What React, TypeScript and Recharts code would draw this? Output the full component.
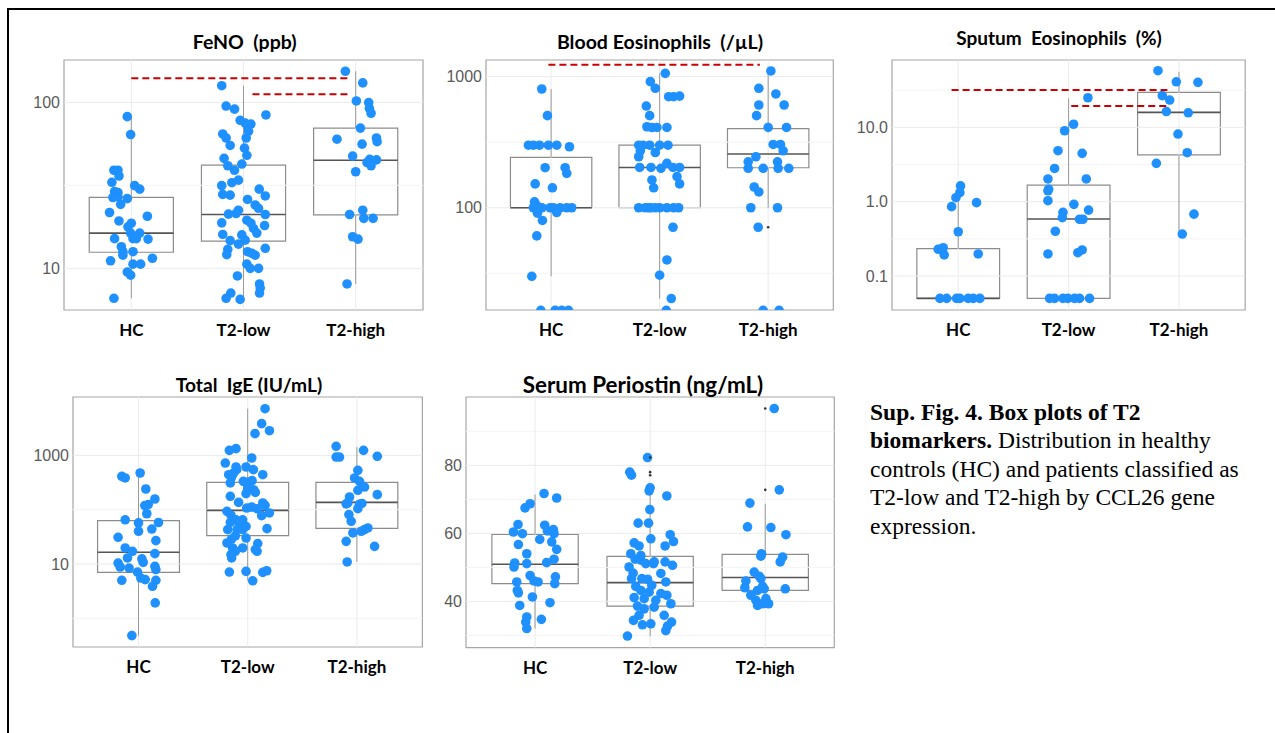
import {
  ComposedChart,
  XAxis,
  YAxis,
  Scatter,
  ReferenceLine,
  ReferenceArea,
} from 'recharts';

const CATS = ['HC', 'T2-low', 'T2-high'];

// points: [jitter offset in category units, value]
const fenoHC = [
  [-0.036, 82], [-0.006, 64], [-0.155, 39], [-0.119, 39], [-0.11, 36], [-0.173, 33],
  [0.03, 31.5], [0.075, 30], [-0.149, 29], [-0.119, 28.6], [-0.164, 26.7], [-0.119, 27],
  [-0.036, 26.3], [-0.095, 24.3], [-0.194, 21.7], [0.143, 20.6], [-0.11, 19.3], [0, 18.7],
  [-0.03, 17.8], [0.075, 16.3], [-0.006, 16.3], [-0.149, 15.1], [0.149, 15], [0.015, 15.1],
  [0.045, 15.1], [-0.089, 13.5], [-0.075, 12.6], [0.015, 12.6], [-0.075, 12.0], [0.188, 11.5],
  [-0.185, 11.1], [0.015, 10.6], [0.083, 10.6], [-0.036, 9.5], [-0.006, 9.1], [-0.155, 6.6],
];
const fenoLow = [
  [-0.194, 126], [-0.155, 95], [-0.08, 91], [0.2, 84], [-0.03, 78], [0.015, 75], [0.066, 74],
  [0.036, 72], [0.045, 67], [-0.185, 64.5], [-0.155, 61], [0.024, 61], [-0.119, 55], [0.009, 53],
  [0.03, 48], [-0.173, 46], [-0.14, 41.5], [-0.015, 42.5], [-0.08, 39], [-0.045, 34],
  [-0.104, 32.8], [-0.194, 31.5], [0.14, 30], [0.194, 27.3], [-0.185, 27.9], [-0.119, 27.6],
  [0.036, 26], [0.104, 24.1], [0.134, 23], [-0.045, 22.4], [-0.066, 21.4], [-0.134, 21.2],
  [0.194, 21.1], [0.03, 19.5], [-0.194, 18.8], [0.066, 18.7], [0.188, 18.1], [0.089, 17.4],
  [0.119, 16.3], [-0.185, 16], [-0.015, 15.9], [-0.119, 14.7], [0.015, 14.8], [-0.045, 14],
  [-0.14, 13], [0.036, 12.6], [-0.149, 12.1], [0.075, 12.3], [0.104, 12], [0.194, 13.2],
  [0.03, 10.6], [0.06, 10], [0.134, 10], [-0.054, 9.0], [0.143, 8.05], [0.149, 7.6],
  [0.143, 7.1], [-0.113, 7.1], [-0.155, 6.6], [-0.03, 6.5],
];
const fenoHigh = [
  [-0.092, 154], [0.063, 131], [0.006, 102], [0.116, 99.6], [0.122, 92], [0.137, 86],
  [0.042, 70], [-0.167, 60], [0.185, 61], [0.191, 58], [0.057, 56], [-0.027, 47.5],
  [0.125, 45.4], [0.185, 45], [0.101, 43.4], [0.137, 41.5], [0, 38.2], [0.063, 22.4],
  [-0.054, 21.1], [0.072, 20], [0.155, 20], [-0.027, 15.5], [0.021, 15], [-0.077, 8.05],
];
// box stats: [q1, median, q3, lower whisker, upper whisker]
const fenoBox = [[12.5, 16.3, 26.8, 6.6, 81], [14.6, 21.1, 41.9, 6.5, 126], [21, 44.8, 70, 8.05, 154]];
// significance bars: [x from, x to, value]
const fenoSig = [[1.0, 2.94, 139.5], [2.08, 2.96, 112]];

const bloodHC = [
  [-0.086, 805], [-0.034, 504], [-0.209, 300], [-0.163, 300], [-0.107, 300], [-0.025, 300],
  [0.052, 300], [0.169, 292], [-0.055, 202], [0.129, 202], [0.144, 183], [-0.147, 152],
  [0.012, 142], [-0.153, 111], [-0.163, 100], [-0.086, 100], [-0.009, 100], [0.021, 100],
  [0.083, 100], [0.144, 100], [0.19, 100], [-0.126, 103], [-0.126, 91], [0.052, 92],
  [-0.08, 80], [-0.132, 61], [-0.178, 30], [-0.095, 16.5], [0.037, 16.5], [0.098, 16.5],
  [0.16, 16.5],
];
const bloodLow = [
  [0.052, 1060], [-0.086, 916], [-0.04, 815], [0.083, 703], [0.129, 703], [0.184, 711],
  [-0.123, 597], [-0.092, 504], [-0.117, 415], [-0.071, 409], [-0.025, 410], [0.067, 410],
  [-0.193, 300], [-0.153, 300], [-0.092, 300], [0, 300], [0.077, 300], [-0.178, 272],
  [-0.04, 264], [-0.193, 245], [-0.184, 203], [-0.08, 203], [0.012, 200], [0.067, 218],
  [0.123, 203], [0.184, 203], [0.16, 173], [-0.071, 163], [0.184, 152], [-0.055, 142],
  [-0.193, 100], [-0.132, 100], [-0.101, 100], [-0.08, 100], [-0.04, 100], [0, 100],
  [0.067, 100], [0.129, 100], [0.175, 100], [0.123, 71], [0.067, 40], [0, 30.6],
  [0.107, 20.3], [0.061, 16.5],
];
const bloodHigh = [
  [0.025, 1105], [-0.086, 815], [0.071, 738], [0.147, 608], [-0.086, 608], [-0.107, 504],
  [0, 410], [0.169, 410], [0.046, 304], [0.113, 304], [0.138, 272], [-0.113, 245],
  [-0.184, 224], [-0.184, 200], [-0.046, 200], [0.086, 224], [0.092, 200], [0.19, 200],
  [-0.129, 144], [-0.086, 132], [-0.16, 100], [0.086, 100], [-0.092, 71], [-0.046, 16.5],
  [0.101, 16.5],
];
const bloodBox = [[100, 100, 242, 30, 805], [100, 203, 300, 20.3, 1060], [202, 257, 401, 100, 1105]];
const bloodOut = [[], [], [71]];
const bloodSig = [[0.975, 2.923, 1235]];

const sputumHC = [
  [0.021, 1.63], [0.015, 1.32], [-0.021, 1.13], [-0.06, 0.857], [0.166, 0.97], [0, 0.394],
  [-0.181, 0.229], [-0.136, 0.24], [-0.127, 0.192], [0.181, 0.198], [-0.166, 0.05],
  [-0.105, 0.05], [-0.015, 0.05], [0.015, 0.05], [0.09, 0.05], [0.136, 0.05], [0.196, 0.05],
];
const sputumLow = [
  [0.175, 25], [0.045, 11], [-0.036, 9], [-0.096, 4.85], [0.123, 4.47], [-0.127, 2.8],
  [0.16, 2.02], [-0.187, 2.02], [-0.181, 1.47], [-0.187, 1.4], [-0.187, 1.03], [0.048, 0.92],
  [-0.051, 0.72], [0.181, 0.77], [-0.057, 0.61], [0.099, 0.58], [0.13, 0.58], [-0.12, 0.4],
  [-0.187, 0.198], [0.084, 0.206], [0.123, 0.224], [-0.172, 0.05], [-0.127, 0.05],
  [-0.051, 0.05], [-0.006, 0.05], [0.054, 0.05], [0.099, 0.05], [0.19, 0.05],
];
const sputumHigh = [
  [-0.19, 57.8], [-0.024, 41], [0.172, 40.3], [-0.151, 26.7], [-0.084, 23.3], [-0.114, 16.3],
  [0.084, 15.7], [-0.009, 8.13], [0.075, 4.56], [-0.205, 3.28], [0.136, 0.68], [0.03, 0.367],
];
const sputumBox = [[0.05, 0.05, 0.233, 0.05, 1.63], [0.05, 0.585, 1.67, 0.05, 24.5], [4.25, 15.9, 29.6, 0.367, 56]];
const sputumSig = [[0.94, 2.895, 31.8], [2.024, 2.91, 19.4]];

const igeHC = [
  [0.015, 473], [-0.153, 410], [-0.122, 383], [0.067, 240], [0.15, 157], [0.058, 119],
  [0.089, 124], [0.076, 84], [-0.122, 65], [0, 57], [0.183, 58], [0.122, 44], [0, 40],
  [-0.187, 31], [0.159, 26.9], [-0.122, 19.7], [-0.055, 17.1], [0.15, 15.5], [-0.101, 12.9],
  [0.031, 12.4], [0.043, 10.7], [-0.187, 10.4], [-0.168, 8.8], [0.15, 9.05], [-0.086, 8.4],
  [-0.009, 7.1], [0.159, 7.9], [0.021, 5.5], [0.061, 5.15], [-0.153, 5.0], [0.159, 5.0],
  [0.128, 3.88], [0.153, 1.92], [-0.061, 0.48],
];
const igeLow = [
  [0.159, 7230], [0.128, 3830], [0.199, 2845], [0.067, 2510], [-0.168, 1235], [-0.107, 1327],
  [0.037, 893], [-0.205, 722], [-0.107, 610], [-0.015, 610], [0.052, 545], [0.138, 440],
  [-0.101, 545], [-0.174, 440], [-0.147, 399], [-0.128, 473], [-0.04, 332], [0.006, 323],
  [0.04, 342], [-0.159, 310], [0, 251], [0.055, 233], [-0.015, 197], [0.07, 208],
  [-0.159, 176], [-0.083, 136], [0.138, 133], [0.159, 120], [0.037, 112], [-0.009, 107],
  [0.086, 104], [-0.19, 93], [0.199, 87], [0.128, 77.6], [-0.153, 79], [-0.107, 65],
  [-0.046, 65], [-0.159, 58.5], [-0.076, 55], [-0.015, 49], [0.177, 44.7], [-0.098, 42.9],
  [-0.183, 42.9], [-0.046, 42.9], [-0.113, 33], [-0.147, 28.8], [-0.015, 30], [-0.19, 24.4],
  [0.092, 23.7], [-0.138, 19.7], [-0.046, 19.7], [0.07, 18.4], [-0.153, 14.9], [0.086, 17.1],
  [-0.113, 17.1], [-0.147, 12.9], [-0.168, 7.1], [-0.015, 7.3], [0.138, 7.0], [0.174, 7.5],
  [0.046, 4.9],
];
const igeHigh = [
  [-0.19, 1466], [0.061, 1235], [-0.19, 931], [-0.159, 931], [0.187, 960], [0.009, 530],
  [-0.021, 383], [0.024, 332], [0.07, 261], [0.009, 227], [0.187, 189], [-0.067, 171],
  [-0.083, 133], [0.024, 126], [0.046, 130], [0.009, 104], [-0.098, 128], [-0.073, 81],
  [-0.052, 61], [0.101, 46], [0.07, 42.9], [-0.037, 37.2], [0.04, 40], [-0.098, 26.1],
  [0.162, 21.1], [-0.089, 10.9],
];
const igeBox = [[7.0, 16.4, 62.8, 0.48, 473], [33.2, 97, 318, 4.9, 7230], [45.3, 136, 318, 10.9, 1415]];

const periostinHC = [
  [0.078, 71.7], [0.188, 70.4], [-0.087, 67.5], [-0.043, 68.7], [-0.148, 62.6], [-0.188, 60.4],
  [-0.11, 59.9], [0.084, 62.4], [0.159, 61.1], [0.165, 59.9], [0.107, 60.7], [0.145, 57.5],
  [0.188, 55.3], [0.041, 58.2], [-0.145, 56.7], [-0.072, 54.0], [-0.177, 51.3], [-0.072, 51.1],
  [0.101, 51.4], [0.165, 52.4], [-0.183, 50.1], [-0.043, 47.6], [-0.009, 46], [0.026, 45.7],
  [-0.159, 45.7], [0.177, 47.2], [0.171, 45.2], [-0.154, 43.2], [-0.145, 42.5], [-0.023, 41.3],
  [0.13, 39.6], [-0.133, 38.8], [-0.072, 35.4], [-0.081, 33.9], [0.055, 34.7], [-0.072, 32.0],
];
const periostinLow = [
  [-0.023, 82.3], [-0.177, 78.0], [-0.162, 77.1], [0, 73.4], [-0.009, 72.5], [0.145, 71.0],
  [-0.003, 67.0], [-0.104, 63.0], [-0.014, 63.0], [0.174, 59.6], [0.203, 57.6], [0.13, 56.3],
  [0.006, 58.4], [-0.139, 57.2], [-0.096, 56.3], [-0.168, 54.0], [-0.081, 53.5], [-0.13, 52.4],
  [-0.081, 52.1], [-0.038, 51.1], [0.035, 51.6], [0.029, 51.1], [0.13, 51.6], [0.194, 50.6],
  [-0.183, 50.1], [-0.148, 48.3], [-0.072, 46.7], [-0.162, 46.7], [-0.023, 46.5], [0.093, 48.2],
  [0.136, 45.7], [0.014, 44.7], [-0.125, 44.4], [-0.081, 43.2], [-0.009, 42.7], [-0.139, 41.1],
  [0.093, 42.3], [-0.052, 40.8], [0.145, 41.8], [0.18, 39.3], [0.049, 40.3], [-0.11, 38.6],
  [-0.052, 37.8], [0.035, 38.3], [-0.096, 35.9], [0.122, 35.9], [0.186, 33.9], [-0.145, 34.4],
  [-0.067, 33.1], [0.006, 33.4], [0.151, 32.7], [0.136, 31.4], [-0.197, 29.8],
];
const periostinHigh = [
  [0.078, 96.7], [0.122, 72.8], [-0.133, 68.9], [-0.154, 61.9], [0.049, 61.7], [0.18, 59.6],
  [-0.032, 54.0], [-0.038, 53.3], [0.151, 53.0], [0.13, 51.6], [-0.096, 48.6], [-0.052, 47.4],
  [-0.168, 46.0], [-0.177, 44.0], [-0.038, 46.7], [-0.023, 44.4], [-0.067, 43.2], [-0.009, 43.7],
  [0.174, 43.7], [-0.125, 41.8], [-0.081, 40.3], [0.006, 40.8], [-0.067, 38.8], [-0.023, 39.3],
  [0.029, 39.3],
];
const periostinBox = [[45.2, 50.9, 59.7, 32.0, 71.4], [38.6, 45.5, 53.2, 29.8, 73.4], [43.2, 47.0, 53.8, 38.8, 68.7]];
const periostinOut = [[], [77.1, 78.0, 82.3], [72.8, 96.7]];

const YW = 60;
const XH = 40;
const M = 6;
const BLUE = '#1E90FF';
const GRID = '#ebebeb';
const MINOR = '#f4f4f4';

const dot = (p: any) => <circle cx={p.cx} cy={p.cy} r={4.8} fill={BLUE} />;
const smallDot = (p: any) => <circle cx={p.cx} cy={p.cy} r={1.3} fill="#333" />;

interface PanelProps {
  plot: [number, number, number, number]; // left, top, right, bottom (page px)
  log: boolean;
  domain: [number, number];
  ticks: number[];
  tickFmt?: (v: number) => string;
  minor: number[];
  groups: number[][][];
  boxes: number[][];
  outliers?: number[][];
  sig?: number[][];
}

function Panel({ plot, log, domain, ticks, tickFmt, minor, groups, boxes, outliers = [], sig = [] }: PanelProps) {
  const [left, top, right, bottom] = plot;
  const width = right - left + YW + 2 * M;
  const height = bottom - top + XH + M;
  const pts = groups.flatMap((g, i) => g.map(([dx, v]) => ({ x: i + 1 + dx, y: v })));
  const outPts = outliers.flatMap((g, i) => g.map((v) => ({ x: i + 1, y: v })));

  return (
    <div style={{ position: 'absolute', left: left - YW - M, top: top - M }}>
      <ComposedChart width={width} height={height} margin={{ top: M, right: M, bottom: 0, left: M }}>
        <XAxis
          type="number"
          dataKey="x"
          domain={[0.4, 3.6]}
          ticks={[1, 2, 3]}
          interval={0}
          allowDataOverflow
          tickFormatter={(v: number) => CATS[v - 1]}
          axisLine={false}
          tickLine={false}
          tickSize={4}
          tickMargin={10}
          height={XH}
          tick={{ fontFamily: 'Lato', fontWeight: 700, fontSize: 17, fill: '#000' }}
        />
        <YAxis
          type="number"
          dataKey="y"
          scale={log ? 'log' : 'linear'}
          domain={domain}
          ticks={ticks}
          interval={0}
          allowDataOverflow
          tickFormatter={tickFmt}
          axisLine={false}
          tickLine={false}
          tickSize={4}
          tickMargin={0}
          width={YW}
          tick={{ fontFamily: 'Liberation Sans', fontSize: 16, fill: '#5a5a5a' }}
        />

        {minor.map((v) => (
          <ReferenceLine key={'mn' + v} y={v} stroke={MINOR} strokeWidth={1} />
        ))}
        {ticks.map((v) => (
          <ReferenceLine key={'mj' + v} y={v} stroke={GRID} strokeWidth={1} />
        ))}
        {[1, 2, 3].map((x) => (
          <ReferenceLine key={'vx' + x} x={x} stroke={GRID} strokeWidth={1} />
        ))}

        {/* whiskers */}
        {boxes.map(([q1, , q3, lo, hi], i) => [
          <ReferenceLine key={'wl' + i} segment={[{ x: i + 1, y: lo }, { x: i + 1, y: q1 }]} stroke="#999" />,
          <ReferenceLine key={'wh' + i} segment={[{ x: i + 1, y: q3 }, { x: i + 1, y: hi }]} stroke="#999" />,
        ])}
        {/* boxes */}
        {boxes.map(([q1, , q3], i) => (
          <ReferenceArea
            key={'bx' + i}
            x1={i + 1 - 0.375}
            x2={i + 1 + 0.375}
            y1={q1}
            y2={q3}
            fill="#fff"
            fillOpacity={1}
            stroke="#8c8c8c"
            strokeWidth={1.2}
            ifOverflow="visible"
          />
        ))}
        {boxes.map(([, med], i) => (
          <ReferenceLine
            key={'md' + i}
            segment={[{ x: i + 1 - 0.375, y: med }, { x: i + 1 + 0.375, y: med }]}
            stroke="#555"
            strokeWidth={1.6}
          />
        ))}

        <Scatter data={pts} shape={dot} isAnimationActive={false} />
        {outPts.length > 0 && <Scatter data={outPts} shape={smallDot} isAnimationActive={false} />}

        {sig.map(([x1, x2, v], i) => (
          <ReferenceLine
            key={'sg' + i}
            segment={[{ x: x1, y: v }, { x: x2, y: v }]}
            stroke="#cc0000"
            strokeWidth={2}
            strokeDasharray="7 4"
            zIndex={700}
          />
        ))}

        <ReferenceArea
          x1={0.4}
          x2={3.6}
          y1={domain[0]}
          y2={domain[1]}
          fill="none"
          stroke="#a6a6a6"
          strokeWidth={1.2}
          ifOverflow="visible"
        />
      </ComposedChart>
    </div>
  );
}

const titleStyle = { fontFamily: 'Lato', fontWeight: 700, whiteSpace: 'pre' as const };

export default function App() {
  return (
    <div
      style={{
        position: 'absolute',
        left: 0,
        top: 0,
        width: 1275,
        height: 733,
        background: '#fff',
        overflow: 'hidden',
      }}
    >
      {/* outer frame */}
      <div
        style={{
          position: 'absolute',
          left: 7,
          top: 8,
          width: 1400,
          height: 900,
          borderLeft: '2px solid #000',
          borderTop: '2px solid #000',
        }}
      />

      <Panel
        plot={[64, 60, 423, 310]}
        log
        domain={[5.61, 180]}
        ticks={[10, 100]}
        minor={[31.62]}
        groups={[fenoHC, fenoLow, fenoHigh]}
        boxes={fenoBox}
        sig={fenoSig}
      />
      <Panel
        plot={[485.7, 60, 833, 310]}
        log
        domain={[16.6, 1340]}
        ticks={[100, 1000]}
        minor={[31.62, 316.2]}
        groups={[bloodHC, bloodLow, bloodHigh]}
        boxes={bloodBox}
        outliers={bloodOut}
        sig={bloodSig}
      />
      <Panel
        plot={[892.3, 60, 1245.5, 310]}
        log
        domain={[0.0349, 80.5]}
        ticks={[0.1, 1, 10]}
        tickFmt={(v: number) => v.toFixed(1)}
        minor={[0.3162, 3.162, 31.62]}
        groups={[sputumHC, sputumLow, sputumHigh]}
        boxes={sputumBox}
        sig={sputumSig}
      />
      <Panel
        plot={[73.3, 397.3, 422.7, 647.3]}
        log
        domain={[0.296, 11860]}
        ticks={[10, 1000]}
        minor={[1, 100]}
        groups={[igeHC, igeLow, igeHigh]}
        boxes={igeBox}
      />
      <Panel
        plot={[465.7, 396.7, 834, 647.3]}
        log={false}
        domain={[26.4, 100.1]}
        ticks={[40, 60, 80]}
        minor={[30, 50, 70, 90]}
        groups={[periostinHC, periostinLow, periostinHigh]}
        boxes={periostinBox}
        outliers={periostinOut}
      />

      <svg
        width={1275}
        height={733}
        style={{ position: 'absolute', left: 0, top: 0, pointerEvents: 'none' }}
      >
        <text x={244.7} y={49.3} textAnchor="middle" fontSize={19.5} style={titleStyle}>
          {'FeNO  (ppb)'}
        </text>
        <text x={660} y={49.3} textAnchor="middle" fontSize={19.5} style={titleStyle}>
          {'Blood Eosinophils  (/µL)'}
        </text>
        <text x={1059} y={45} textAnchor="middle" fontSize={19} style={titleStyle}>
          {'Sputum  Eosinophils  (%)'}
        </text>
        <text x={249} y={392.3} textAnchor="middle" fontSize={19.2} style={titleStyle}>
          {'Total  IgE (IU/mL)'}
        </text>
        <text x={643} y={393.3} textAnchor="middle" fontSize={22.4} style={titleStyle}>
          {'Serum Periostin (ng/mL)'}
        </text>
      </svg>

      {/* caption */}
      <div
        style={{
          position: 'absolute',
          left: 870,
          top: 397.8,
          fontFamily: '"Liberation Serif", serif',
          fontSize: 23.5,
          lineHeight: '28.5px',
          color: '#000',
          whiteSpace: 'nowrap',
        }}
      >
        <div>
          <b>Sup. Fig. 4. Box plots of T2</b>
        </div>
        <div>
          <b>biomarkers.</b> Distribution in healthy
        </div>
        <div>controls (HC) and patients classified as</div>
        <div>T2-low and T2-high by CCL26 gene</div>
        <div>expression.</div>
      </div>
    </div>
  );
}
